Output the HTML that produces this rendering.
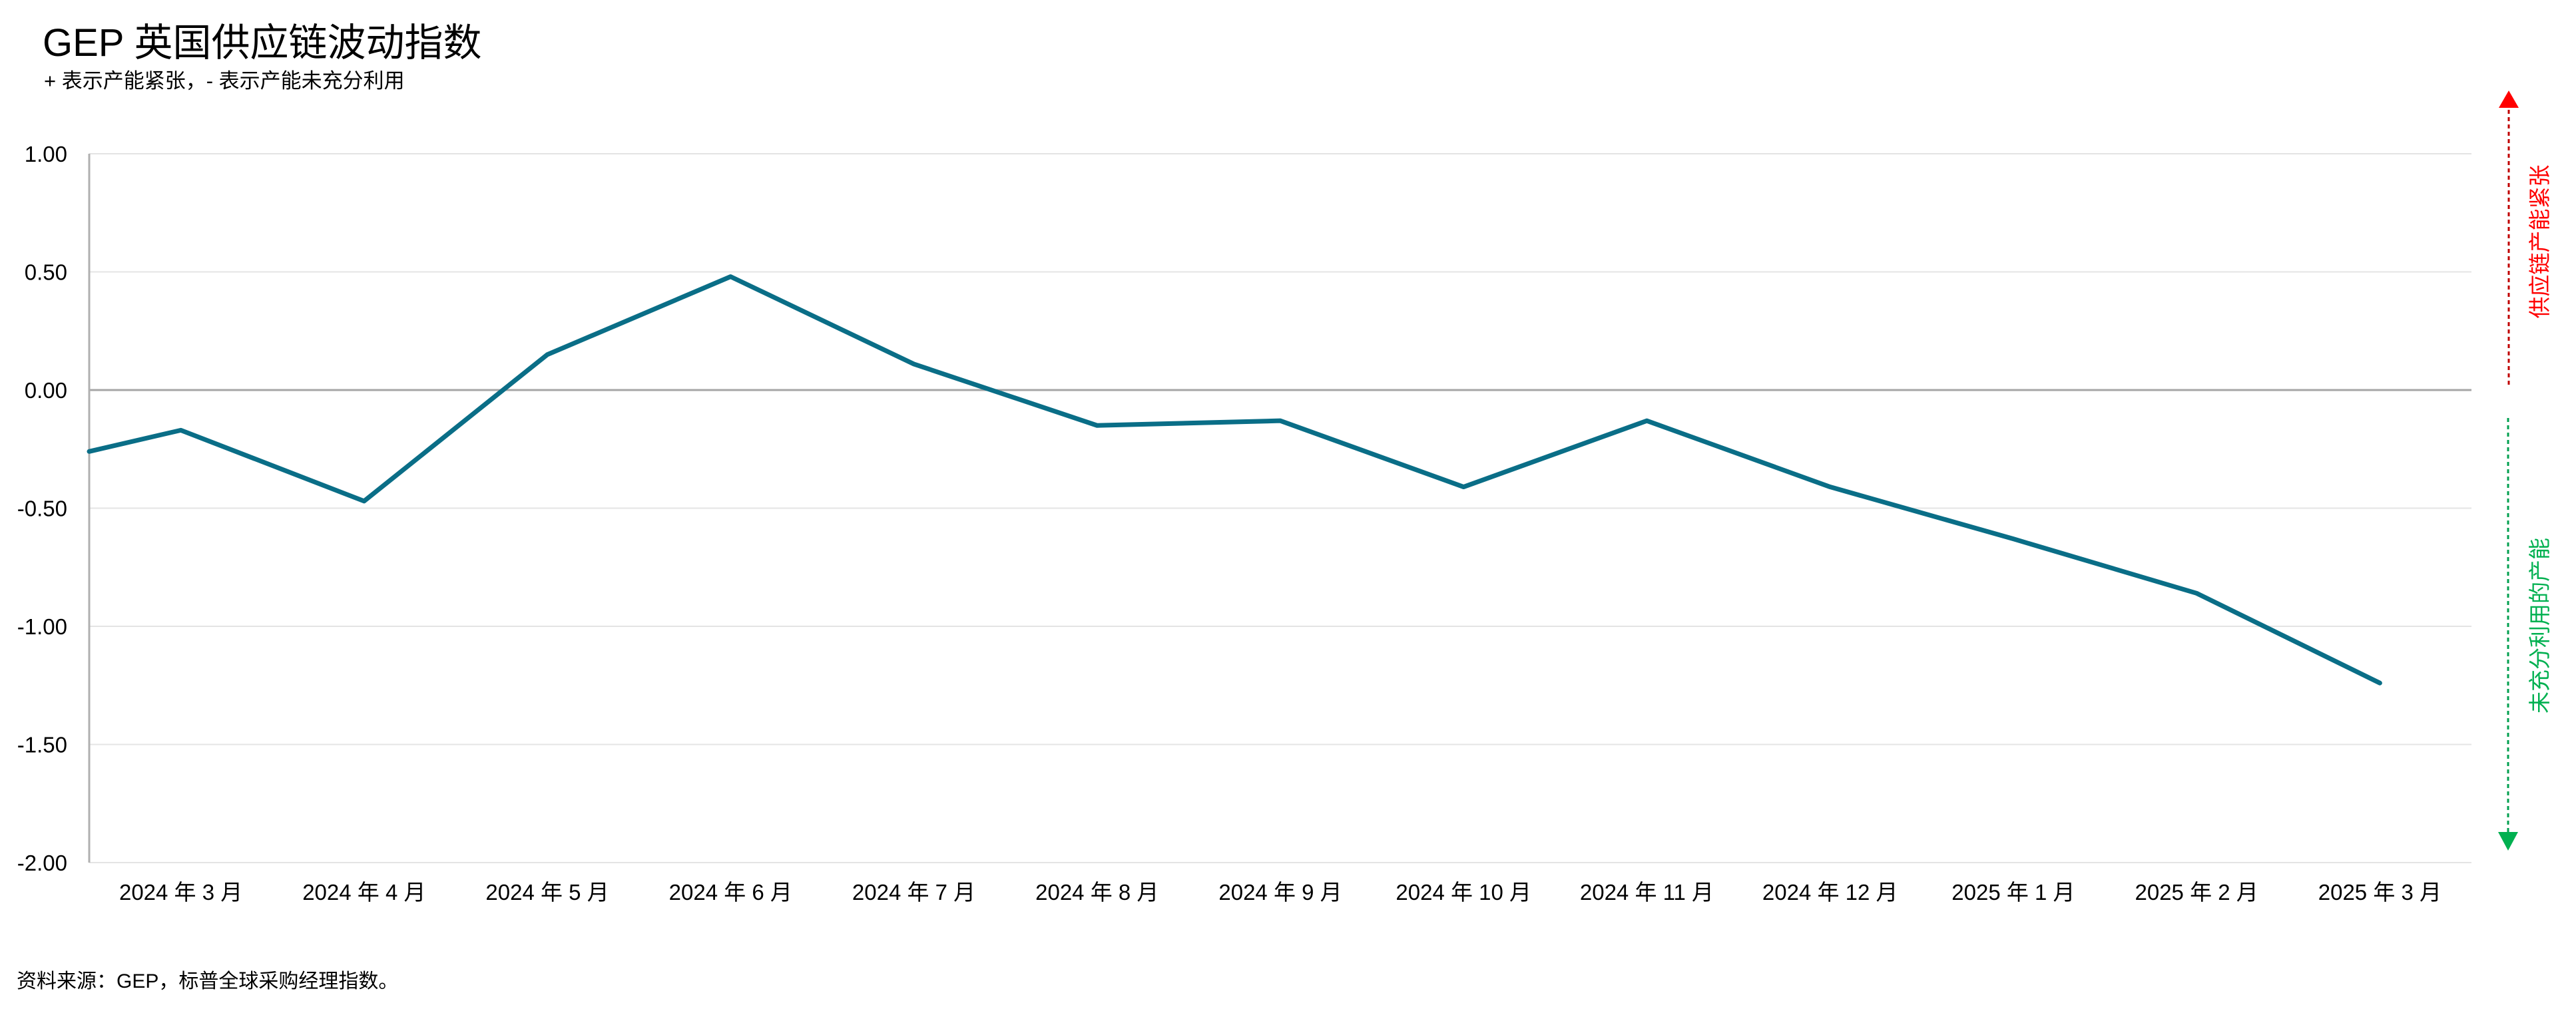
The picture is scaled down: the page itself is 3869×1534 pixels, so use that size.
<!DOCTYPE html>
<html><head><meta charset="utf-8"><style>
body{margin:0;background:#fff;}
svg text{font-family:"Liberation Sans","Noto Sans CJK SC",sans-serif;}
</style></head><body>
<svg id="c" width="3869" height="1529" xmlns="http://www.w3.org/2000/svg">
<text x="64" y="84" font-size="58" fill="#000">GEP 英国供应链波动指数</text>
<text x="66" y="132" font-size="31" fill="#000">+ 表示产能紧张，- 表示产能未充分利用</text>
<text x="25" y="1484" font-size="30" fill="#000">资料来源：GEP，标普全球采购经理指数。</text>
<g id="grid"></g><g id="axes"></g><g id="series"></g>
<line x1="3768" y1="165" x2="3768" y2="580" stroke="#c00000" stroke-width="3" stroke-dasharray="6,5"/>
<polygon points="3768,136 3753,162 3783,162" fill="#ff0000"/>
<line x1="3767" y1="628" x2="3767" y2="1250" stroke="#00a050" stroke-width="3" stroke-dasharray="6,5"/>
<polygon points="3767,1278 3752,1250 3782,1250" fill="#00b050"/>
<text transform="translate(3826,363) rotate(-90)" text-anchor="middle" font-size="33" fill="#ff0000">供应链产能紧张</text>
<text transform="translate(3826,940) rotate(-90)" text-anchor="middle" font-size="33" fill="#00b050">未充分利用的产能</text>
</svg>
<script>
const categories=["2024 年 2 月","2024 年 3 月","2024 年 4 月","2024 年 5 月","2024 年 6 月","2024 年 7 月","2024 年 8 月","2024 年 9 月","2024 年 10 月","2024 年 11 月","2024 年 12 月","2025 年 1 月","2025 年 2 月","2025 年 3 月"];
const values=[-0.26,-0.17,-0.47,0.15,0.48,0.11,-0.15,-0.13,-0.41,-0.13,-0.41,-0.63,-0.86,-1.24];
const yTicks=[1,0.5,0,-0.5,-1,-1.5,-2];
const yTickLabels=["1.00","0.50","0.00","-0.50","-1.00","-1.50","-2.00"];
const NS="http://www.w3.org/2000/svg";
const L=134,R=3712,T=231,B=1296,yMin=-2,yMax=1;
const band=(R-L)/(categories.length-1);
function x(i){return L+(i-0.5)*band;}
function y(v){return T+(yMax-v)/(yMax-yMin)*(B-T);}
function mk(t,a,p){const e=document.createElementNS(NS,t);for(const k in a)e.setAttribute(k,a[k]);document.getElementById(p).appendChild(e);return e;}
yTicks.forEach((v,i)=>{
  const g=mk('line',{x1:L,x2:R,y1:y(v),y2:y(v),stroke:v===0?'#a6a6a6':'#e4e4e4','stroke-width':v===0?3:2},'grid');
  
  
  const t=mk('text',{x:101,y:y(v)+12,'text-anchor':'end','font-size':33,fill:'#000'},'axes');
  t.textContent=yTickLabels[i];
  
  
});
const ax=mk('line',{x1:L,x2:L,y1:T,y2:B,stroke:'#b0b0b0','stroke-width':3},'axes');


categories.forEach((c,i)=>{
  if(i===0)return;
  const t=mk('text',{x:x(i),y:1352,'text-anchor':'middle','font-size':33,fill:'#000'},'axes');
  t.textContent=c;
  
  
});
const pts=values.map((v,i)=>(i===0?L:x(i))+','+y(v)).join(' ');
const pl=mk('polyline',{points:pts,fill:'none',stroke:'#0a6e87','stroke-width':7,'stroke-linejoin':'round','stroke-linecap':'round'},'series');


</script>
</body></html>
